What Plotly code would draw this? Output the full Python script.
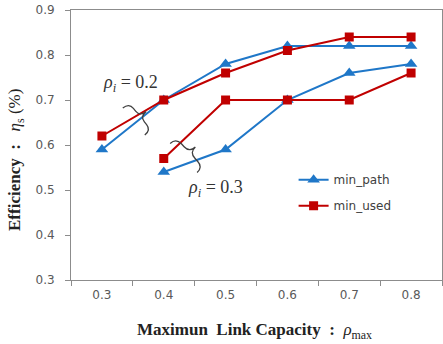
import plotly.graph_objects as go
import math

categories = ["0.3", "0.4", "0.5", "0.6", "0.7", "0.8"]
# rho_i = 0.2
path_02 = [0.59, 0.70, 0.78, 0.82, 0.82, 0.82]
used_02 = [0.62, 0.70, 0.76, 0.81, 0.84, 0.84]
# rho_i = 0.3 (starts at 0.4)
cats_03 = ["0.4", "0.5", "0.6", "0.7", "0.8"]
path_03 = [0.54, 0.59, 0.70, 0.76, 0.78]
used_03 = [0.57, 0.70, 0.70, 0.70, 0.76]

BLUE = "#1F77C8"
RED = "#C00000"
W, H = 443, 344
ML, MR, MT, MB = 71, 1, 10, 64
PW, PH = W - ML - MR, H - MT - MB

fig = go.Figure()
fig.add_trace(go.Scatter(x=categories, y=path_02, name="min_path", legendgroup="p",
                         marker=dict(symbol="triangle-up", size=11, color=BLUE),
                         line=dict(color=BLUE, width=2), mode="lines+markers"))
fig.add_trace(go.Scatter(x=categories, y=used_02, name="min_used", legendgroup="u",
                         marker=dict(symbol="square", size=9, color=RED),
                         line=dict(color=RED, width=2), mode="lines+markers"))
fig.add_trace(go.Scatter(x=cats_03, y=path_03, name="min_path", legendgroup="p", showlegend=False,
                         marker=dict(symbol="triangle-up", size=11, color=BLUE),
                         line=dict(color=BLUE, width=2), mode="lines+markers"))
fig.add_trace(go.Scatter(x=cats_03, y=used_03, name="min_used", legendgroup="u", showlegend=False,
                         marker=dict(symbol="square", size=9, color=RED),
                         line=dict(color=RED, width=2), mode="lines+markers"))

def px2paper(x, y):
    return (x - ML) / PW, (H - MB - y) / PH

def brace(ax, ay, bx, by, h=6, side=1):
    L = math.hypot(bx - ax, by - ay)
    ux, uy = (bx - ax) / L, (by - ay) / L
    nx, ny = -uy * side, ux * side
    w = L * 0.2
    loc = [("M", [(0, -h)]),
           ("Q", [(0, 0), (w, 0)]),
           ("L", [(L / 2 - w, 0)]),
           ("Q", [(L / 2, 0), (L / 2, h)]),
           ("Q", [(L / 2, 0), (L / 2 + w, 0)]),
           ("L", [(L - w, 0)]),
           ("Q", [(L, 0), (L, -h)])]
    parts = []
    for cmd, pts in loc:
        s = cmd
        for (a, b) in pts:
            x = ax + ux * a + nx * b
            y = ay + uy * a + ny * b
            xp, yp = px2paper(x, y)
            s += f" {xp:.4f},{yp:.4f}"
        parts.append(s)
    return " ".join(parts)

for (a, b) in [((129, 103), (151, 130)), ((176, 138), (203, 167))]:
    fig.add_shape(type="path", xref="paper", yref="paper",
                  path=brace(a[0], a[1], b[0], b[1], h=8, side=-1),
                  line=dict(color="#404040", width=1.3))

def ann(px, py, text, font, angle=0):
    xp, yp = px2paper(px, py)
    fig.add_annotation(x=xp, y=yp, xref="paper", yref="paper", xanchor="center", yanchor="middle",
                       text=text, showarrow=False, font=font, textangle=angle)

annot_font = dict(family="Liberation Serif", size=18, color="#333333")
ann(130, 83, "<i>ρ</i><sub><i>i</i></sub> = 0.2", annot_font)
ann(215, 188, "<i>ρ</i><sub><i>i</i></sub> = 0.3", annot_font)

title_font = dict(family="Liberation Serif", size=17, color="#222222")
ann(254, 331, "<b>Maximun  Link Capacity  :</b>  <i>ρ</i><sub>max</sub>", title_font)
ann(16, 160, "<b>Efficiency  :</b>   <i>η</i><sub>s</sub> (%)", title_font, angle=-90)

axis_col = "#8C8C8C"
tick_font = dict(family="DejaVu Sans", size=12, color="#595959")
fig.update_xaxes(type="category", range=[-0.5, 5.5], showline=True, linecolor=axis_col, linewidth=1,
                 mirror=True, ticks="outside", tickson="boundaries", ticklen=5, tickcolor=axis_col,
                 showgrid=False, tickfont=tick_font, zeroline=False, ticklabelstandoff=4)
fig.update_yaxes(range=[0.3, 0.9], dtick=0.1, tickformat=".1f", showline=True, linecolor=axis_col,
                 linewidth=1, mirror=True, ticks="outside", ticklen=5, tickcolor=axis_col,
                 showgrid=False, tickfont=tick_font, zeroline=False, ticklabelstandoff=8)

fig.update_layout(width=W, height=H, margin=dict(l=ML, r=MR, t=MT, b=MB),
                  paper_bgcolor="white", plot_bgcolor="white",
                  legend=dict(x=0.6, y=0.425, xanchor="left", yanchor="top",
                              bgcolor="rgba(0,0,0,0)",
                              font=dict(family="DejaVu Sans", size=12, color="#404040"),
                              tracegroupgap=7))
fig.write_html("out.html")
